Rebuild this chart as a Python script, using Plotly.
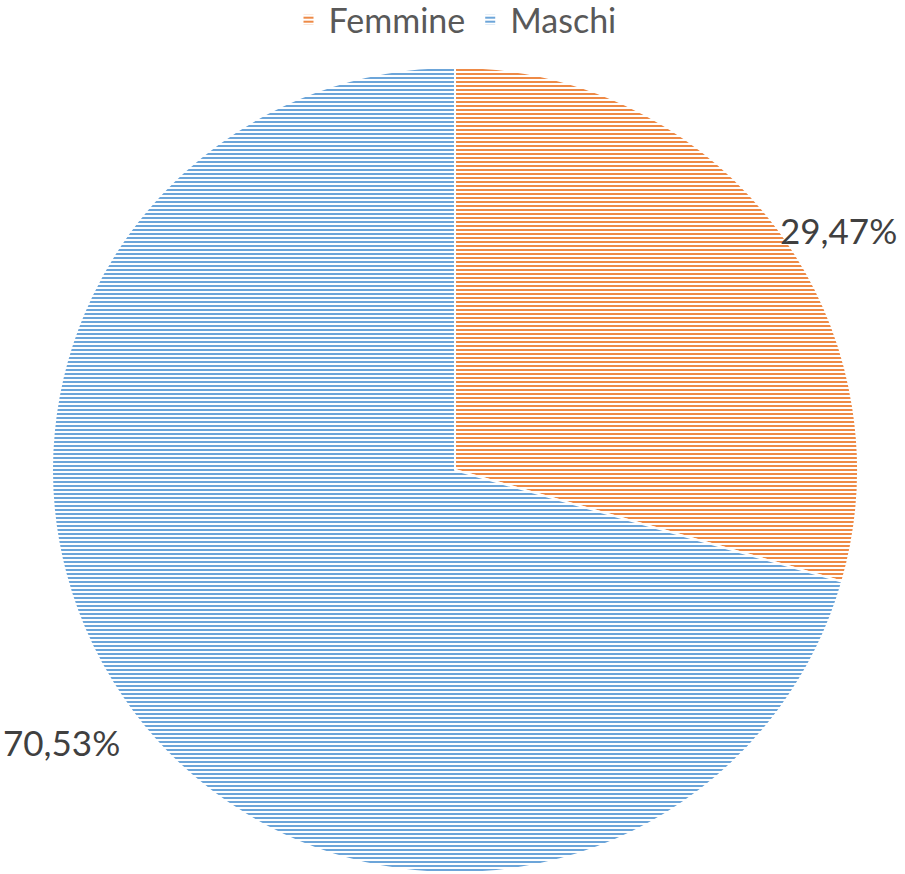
import plotly.graph_objects as go

categories = ["Femmine", "Maschi"]
values = [29.47, 70.53]
colors = ["#ED7D31", "#5B9BD5"]
label_texts = [f"{v:.2f}".replace(".", ",") + "%" for v in values]

fig = go.Figure(go.Pie(
    labels=categories,
    values=values,
    sort=False,
    direction="clockwise",
    rotation=0,
    textinfo="none",
    hoverinfo="label+percent",
    marker=dict(
        colors=colors,
        line=dict(color="white", width=2),
        pattern=dict(shape="-", size=4, solidity=0.45,
                     fgcolor=colors, bgcolor=["white", "white"],
                     fillmode="replace"),
    ),
))

label_pos = [(0.976, 0.798), (0.012, 0.163)]
for (x, y), t in zip(label_pos, label_texts):
    fig.add_annotation(x=x, y=y, xref="paper", yref="paper", text=t,
                       showarrow=False, xanchor="center", yanchor="middle",
                       font=dict(size=35, color="#404040", family="Lato"))

fig.update_layout(
    width=905, height=874,
    margin=dict(l=52, r=47, t=67, b=1),
    paper_bgcolor="white", plot_bgcolor="white",
    font=dict(family="Lato", color="#595959"),
    legend=dict(orientation="h", x=0.5, xanchor="center",
                yref="container", y=0.977, yanchor="middle",
                font=dict(size=34, color="#595959"),
                itemsizing="constant"),
)

fig.write_html("out.html", config={"displayModeBar": False},
               post_script="document.body.style.margin='0';document.body.style.overflow='hidden';")
